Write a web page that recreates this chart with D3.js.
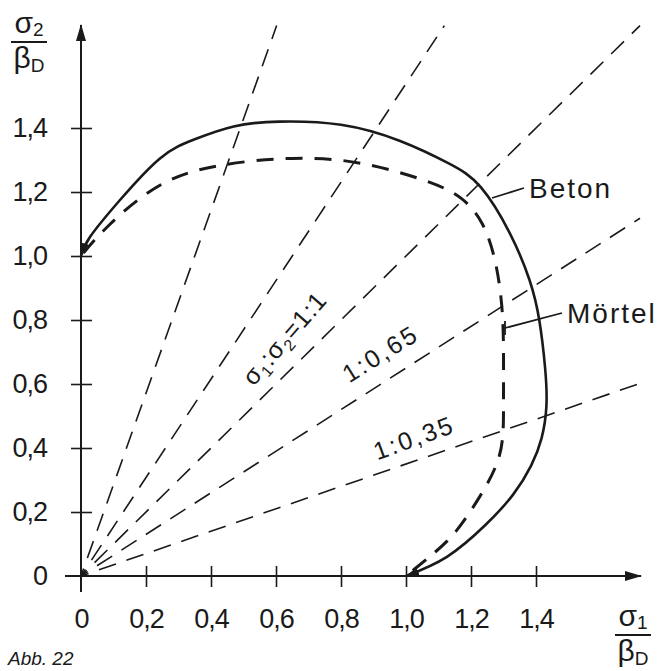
<!DOCTYPE html>
<html>
<head>
<meta charset="utf-8">
<script src="https://cdn.jsdelivr.net/npm/d3@7"></script>
<style>
  html, body { margin: 0; padding: 0; background: #fff; }
  svg { display: block; }
  text { font-family: "Liberation Sans", "DejaVu Sans", Arial, sans-serif; fill: #1a1a1a; }
</style>
</head>
<body>
<svg id="chart" width="662" height="671"></svg>
<script>
// ---- data ----
const tickValues = [0, 0.2, 0.4, 0.6, 0.8, 1.0, 1.2, 1.4];
const tickLabels = ["0", "0,2", "0,4", "0,6", "0,8", "1,0", "1,2", "1,4"];

// Beton (solid) : sigma1/betaD, sigma2/betaD
const betonS1 = [0, 0.028, 0.12, 0.243, 0.35, 0.47, 0.61, 0.80, 0.98, 1.13, 1.23, 1.32, 1.38, 1.41, 1.428, 1.432, 1.417, 1.385, 1.33, 1.245, 1.126, 1.0];
const betonS2 = [1.0, 1.06, 1.175, 1.305, 1.365, 1.405, 1.42, 1.41, 1.36, 1.29, 1.215, 1.07, 0.925, 0.80, 0.65, 0.53, 0.43, 0.345, 0.255, 0.16, 0.06, 0];

// Mörtel (dashed)
const moertelS1 = [0, 0.09, 0.25, 0.44, 0.65, 0.86, 1.06, 1.17, 1.235, 1.275, 1.295, 1.30, 1.30, 1.297, 1.275, 1.225, 1.157, 1.09, 1.0];
const moertelS2 = [1.0, 1.10, 1.225, 1.285, 1.305, 1.29, 1.235, 1.18, 1.10, 0.98, 0.84, 0.70, 0.55, 0.43, 0.34, 0.245, 0.144, 0.075, 0];

// radial load paths sigma2/sigma1
const rayRatios = [1 / 0.35, 1 / 0.65, 1, 0.65, 0.35];
const rayReach = 1.72;

const svg = d3.select("#chart");
const x = d3.scaleLinear().domain([0, 1.4]).range([81, 536]);
const y = d3.scaleLinear().domain([0, 1.4]).range([576, 128]);
const ink = "#1a1a1a";

// ---- defs ----
const defs = svg.append("defs");
defs.append("marker").attr("id", "arr")
  .attr("viewBox", "0 0 14 8").attr("refX", 13).attr("refY", 4)
  .attr("markerWidth", 14).attr("markerHeight", 8)
  .attr("markerUnits", "userSpaceOnUse")
  .attr("orient", "auto-start-reverse")
  .append("path").attr("d", "M0,0 L14,4 L0,8 Z").attr("fill", ink);
defs.append("marker").attr("id", "axarr")
  .attr("viewBox", "0 0 17 10").attr("refX", 16).attr("refY", 5)
  .attr("markerWidth", 17).attr("markerHeight", 10)
  .attr("markerUnits", "userSpaceOnUse")
  .attr("orient", "auto")
  .append("path").attr("d", "M0,0 L17,5 L0,10 Z").attr("fill", ink);

// ---- rays ----
const rays = rayRatios.map(r => r >= 1 ? [rayReach / r, rayReach] : [rayReach, r * rayReach]);
svg.append("g").selectAll("line").data(rays).join("line")
  .attr("x1", x(0)).attr("y1", y(0))
  .attr("x2", d => x(d[0])).attr("y2", d => y(d[1]))
  .attr("stroke", ink).attr("stroke-width", 1.6)
  .attr("stroke-dasharray", "18,11").attr("stroke-dashoffset", 10);

// ---- axes ----
const fmt = d => tickLabels[tickValues.indexOf(d)];
const xAxis = svg.append("g").attr("transform", "translate(0,566)")
  .call(d3.axisBottom(x).tickValues(tickValues).tickFormat(fmt).tickSize(21).tickSizeOuter(0).tickPadding(22));
const yAxis = svg.append("g").attr("transform", "translate(92,0)")
  .call(d3.axisLeft(y).tickValues(tickValues).tickFormat(fmt).tickSize(21).tickSizeOuter(0).tickPadding(24));
[xAxis, yAxis].forEach(g => {
  g.select(".domain").remove();
  g.selectAll(".tick line").attr("stroke", ink).attr("stroke-width", 1.6);
  g.selectAll(".tick text").attr("font-size", 27).attr("fill", ink)
    .attr("font-family", "'Liberation Sans', 'DejaVu Sans', sans-serif").attr("letter-spacing", -1);
});
xAxis.select(".tick line").remove();
yAxis.select(".tick line").remove();

svg.append("line").attr("x1", x(0) - 16).attr("y1", y(0)).attr("x2", 641).attr("y2", y(0))
  .attr("stroke", ink).attr("stroke-width", 2).attr("marker-end", "url(#axarr)");
svg.append("line").attr("x1", x(0)).attr("y1", y(0) + 16).attr("x2", x(0)).attr("y2", 25)
  .attr("stroke", ink).attr("stroke-width", 2).attr("marker-end", "url(#axarr)");

// ---- curves ----
const line = d3.line().x(d => x(d[0])).y(d => y(d[1])).curve(d3.curveNatural);
const beton = betonS1.map((v, i) => [v, betonS2[i]]);
const moertel = moertelS1.map((v, i) => [v, moertelS2[i]]);

svg.append("path").datum(moertel).attr("d", line)
  .attr("fill", "none").attr("stroke", ink).attr("stroke-width", 3)
  .attr("stroke-dasharray", "17,12").attr("stroke-dashoffset", -4);
svg.append("path").datum(beton).attr("d", line)
  .attr("fill", "none").attr("stroke", ink).attr("stroke-width", 2.6)
  .attr("marker-start", "url(#arr)").attr("marker-end", "url(#arr)");

// ---- leaders & labels ----
svg.append("line").attr("x1", 492).attr("y1", 198).attr("x2", 524).attr("y2", 188)
  .attr("stroke", ink).attr("stroke-width", 1.8);
svg.append("text").attr("x", 529).attr("y", 198).attr("font-size", 28).attr("letter-spacing", 2).text("Beton");

svg.append("line").attr("x1", 505).attr("y1", 328).attr("x2", 562).attr("y2", 313)
  .attr("stroke", ink).attr("stroke-width", 1.8);
svg.append("line").attr("x1", 505).attr("y1", 321).attr("x2", 505).attr("y2", 335)
  .attr("stroke", ink).attr("stroke-width", 1.8);
svg.append("text").attr("x", 567).attr("y", 323).attr("font-size", 28).attr("letter-spacing", 2).text("Mörtel");

// ratio labels
const lab1 = svg.append("text").attr("font-size", 25).attr("letter-spacing", 1)
  .attr("text-anchor", "middle")
  .attr("transform", "translate(291,344) rotate(-49)");
lab1.append("tspan").text("σ");
lab1.append("tspan").attr("font-size", 16).attr("dy", 5).text("1");
lab1.append("tspan").attr("dy", -5).text(":σ");
lab1.append("tspan").attr("font-size", 16).attr("dy", 5).text("2");
lab1.append("tspan").attr("dy", -5).text("=1:1");

svg.append("text").attr("font-size", 25).attr("letter-spacing", 2.5).attr("text-anchor", "middle")
  .attr("transform", "translate(385,361) rotate(-32)").text("1:0,65");
svg.append("text").attr("font-size", 25).attr("letter-spacing", 2.5).attr("text-anchor", "middle")
  .attr("transform", "translate(417,446) rotate(-20)").text("1:0,35");

// ---- axis titles ----
function fracTitle(cx, yTop, sub) {
  const t = svg.append("text").attr("x", cx).attr("y", yTop).attr("font-size", 30).attr("text-anchor", "middle");
  t.append("tspan").text("σ");
  t.append("tspan").attr("font-size", 19).attr("dy", 3).text(sub);
  svg.append("line").attr("x1", cx - 18).attr("x2", cx + 18).attr("y1", yTop + 9).attr("y2", yTop + 9)
    .attr("stroke", ink).attr("stroke-width", 1.8);
  const b = svg.append("text").attr("x", cx).attr("y", yTop + 35).attr("font-size", 30).attr("text-anchor", "middle");
  b.append("tspan").text("β");
  b.append("tspan").attr("font-size", 19).attr("dy", 4).text("D");
}
fracTitle(29, 33, "2");
fracTitle(633, 626, "1");

svg.append("text").attr("x", 8).attr("y", 665).attr("font-size", 19)
  .attr("font-family", "'Liberation Serif', 'DejaVu Serif', serif").attr("font-style", "italic")
  .text("Abb. 22");
</script>
</body>
</html>
